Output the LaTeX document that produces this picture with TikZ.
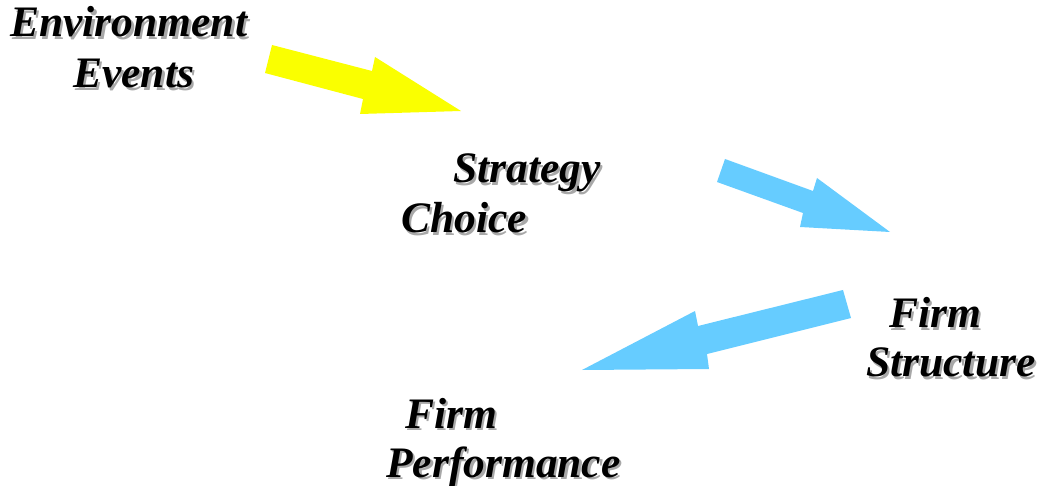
\documentclass[tikz,border=0pt]{standalone}
\usepackage{fontspec}
\newfontfamily\lblfont{Liberation Serif}[UprightFont={* Bold Italic}]
\definecolor{arrowyellow}{HTML}{FAFF00}
\definecolor{arrowblue}{HTML}{66CCFF}
\definecolor{shadowgray}{HTML}{A8A8A8}
\newcommand\shadowtxt[1]{\makebox[0pt][l]{\hspace{2.5pt}\raisebox{-2.5pt}{\color{shadowgray}#1}}#1}
\tikzset{
  lbl/.style={anchor=base west, inner sep=0pt, font=\lblfont\fontsize{43.5}{43.5}\selectfont},
  blockarrow/.style={draw=none}
}
\begin{document}
\begin{tikzpicture}[x=1pt,y=-1pt]
\useasboundingbox (0,0) rectangle (1039,486);
% arrows
\fill[arrowyellow] (272,45) -- (372,71) -- (375,57) -- (461,111) -- (360,114) -- (363,99) -- (265,73) -- cycle;
\fill[arrowblue] (725,159) -- (813,191) -- (817,178) -- (890,232) -- (800,227) -- (803,213) -- (717,182) -- cycle;
\fill[arrowblue] (843,290) -- (851,318) -- (707,354) -- (709,369) -- (582,370) -- (695,311) -- (698,326) -- cycle;
% labels
\node[lbl] (env1) at (10,37) {\shadowtxt{Environment}};
\node[lbl] (env2) at (73,88) {\shadowtxt{Events}};
\node[lbl] (str1) at (453,183) {\shadowtxt{Strategy}};
\node[lbl] (str2) at (401,233) {\shadowtxt{Choice}};
\node[lbl] (fs1) at (889,328) {\shadowtxt{Firm}};
\node[lbl] (fs2) at (866,377) {\shadowtxt{Structure}};
\node[lbl] (fp1) at (405,428) {\shadowtxt{Firm}};
\node[lbl] (fp2) at (386,477) {\shadowtxt{Performance}};
\end{tikzpicture}
\end{document}
